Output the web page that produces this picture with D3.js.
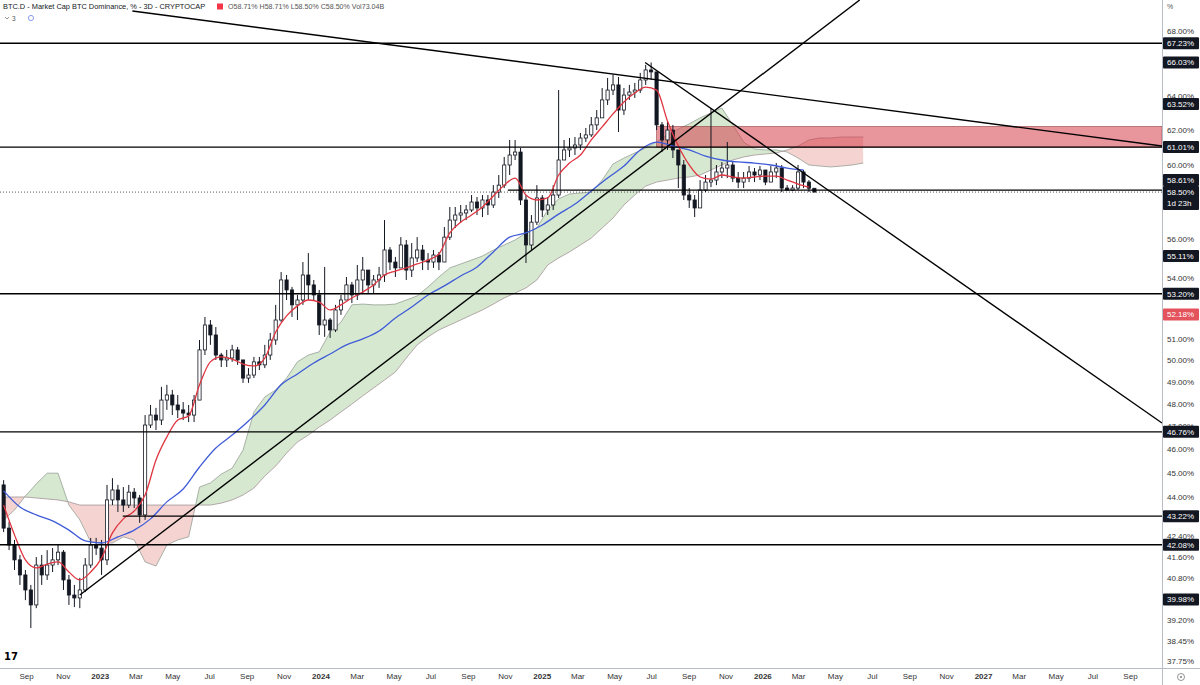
<!DOCTYPE html>
<html>
<head>
<meta charset="utf-8">
<script src="https://cdn.jsdelivr.net/npm/d3@7"></script>
<style>
  body { margin: 0; background: #fff; }
  svg { display: block; font-family: "Liberation Sans", Arial, sans-serif; }
</style>
</head>
<body>
<script>
// candles: one bar per 9 days (three 3D bars merged), open = previous close
const candleStart = '2022-07-26'
const candleDays = 9
const firstOpen = 44.50
const closes = [
  42.74, 42.07, 41.49, 40.91, 40.34, 39.78, 41.29, 40.91, 41.29, 41.49,
  41.79, 40.72, 40.15, 40.04, 40.34, 41.29, 42.07, 41.95, 41.49, 43.88,
  44.29, 43.88, 43.67, 44.20, 43.96, 43.27, 47.06, 47.50, 47.28, 48.17,
  48.40, 47.95, 47.73, 47.59, 47.50, 48.17, 50.48, 51.67, 51.19, 50.24,
  50.01, 50.10, 50.48, 50.01, 49.17, 49.31, 49.92, 49.78, 50.24, 50.95,
  51.91, 53.89, 53.39, 52.65, 52.89, 54.14, 53.64, 53.14, 51.67, 51.91,
  51.43, 52.40, 52.89, 53.64, 53.14, 53.89, 54.39, 53.64, 53.89, 54.14,
  55.42, 54.80, 54.50, 55.68, 54.39, 55.01, 55.42, 54.90, 54.80, 55.16,
  54.80, 56.09, 56.99, 57.26, 57.37, 57.53, 57.96, 57.64, 58.07, 57.80,
  58.50, 58.88, 60.00, 60.56, 60.73, 58.07, 55.68, 56.88, 58.18, 57.53,
  57.80, 58.34, 60.28, 60.85, 60.96, 61.13, 61.53, 61.71, 62.29, 62.70,
  63.76, 64.35, 64.66, 63.16, 64.05, 64.23, 64.35, 64.96, 65.57, 65.45,
  62.29, 61.42, 61.99, 60.85, 60.00, 58.34, 58.07, 57.64, 58.61, 59.05,
  59.16, 59.61, 59.83, 60.00, 59.27, 59.05, 59.27, 59.61, 59.44, 59.72,
  59.05, 59.61, 59.83, 58.72, 58.61, 58.72, 59.61, 59.05, 58.71, 58.50
]
const highs = [
  44.70, 42.99, 42.27, 41.68, 41.10, 40.53, 41.60, 41.68, 41.87, 41.95,
  42.07, 41.87, 40.91, 40.53, 40.80, 41.56, 42.35, 42.35, 42.27, 44.50,
  44.78, 44.50, 44.41, 44.50, 44.37, 44.08, 47.50, 47.95, 47.82, 48.77,
  48.86, 48.63, 48.40, 48.08, 47.95, 48.40, 50.95, 52.06, 51.91, 51.57,
  50.34, 50.48, 50.72, 50.62, 50.01, 49.63, 50.15, 50.15, 50.72, 51.29,
  52.65, 54.29, 54.14, 53.54, 53.14, 54.80, 55.26, 53.89, 53.39, 54.55,
  52.01, 52.65, 53.14, 54.04, 53.79, 54.65, 55.06, 54.39, 54.14, 54.55,
  56.99, 55.57, 55.06, 56.09, 55.94, 55.78, 56.09, 55.68, 55.26, 55.42,
  55.32, 56.62, 57.69, 57.69, 57.80, 57.80, 58.34, 58.23, 58.34, 58.34,
  58.88, 59.44, 60.45, 61.42, 61.42, 60.96, 58.34, 57.26, 58.88, 58.34,
  58.23, 58.88, 64.35, 61.42, 61.53, 61.59, 61.82, 62.11, 62.75, 63.16,
  64.47, 65.08, 65.27, 65.14, 64.47, 64.66, 64.78, 65.39, 65.88, 66.03,
  65.02, 62.46, 62.46, 62.29, 60.85, 60.28, 58.72, 58.34, 59.16, 59.44,
  63.28, 60.00, 60.17, 61.30, 60.17, 59.61, 59.61, 59.94, 59.83, 59.94,
  59.61, 59.94, 60.11, 60.00, 58.88, 58.88, 60.00, 59.72, 59.16, 58.71
]
const lows = [
  42.58, 41.87, 41.10, 40.53, 39.96, 38.93, 39.66, 40.53, 40.72, 41.02,
  41.29, 40.34, 39.78, 39.70, 39.66, 40.26, 41.18, 41.68, 40.91, 41.29,
  43.67, 43.39, 43.39, 43.55, 43.55, 42.95, 43.07, 46.93, 46.84, 47.06,
  47.73, 47.50, 47.37, 47.28, 47.19, 47.19, 48.17, 50.24, 50.72, 50.01,
  49.68, 49.68, 49.92, 49.78, 48.95, 48.95, 49.17, 49.54, 49.63, 50.01,
  50.72, 51.81, 52.89, 52.06, 51.91, 52.65, 52.89, 52.89, 51.19, 51.10,
  51.05, 51.33, 52.16, 52.89, 52.74, 52.89, 53.24, 53.24, 53.24, 53.49,
  53.79, 54.39, 54.04, 54.50, 53.89, 54.04, 54.80, 54.39, 54.39, 54.50,
  54.39, 54.80, 55.94, 56.57, 56.88, 56.99, 57.42, 57.26, 57.15, 57.26,
  57.64, 58.18, 58.72, 59.44, 60.28, 57.80, 54.75, 55.42, 56.73, 57.15,
  57.26, 57.53, 58.18, 60.28, 60.45, 60.56, 60.85, 61.30, 61.59, 61.99,
  62.70, 63.46, 64.05, 61.88, 62.87, 63.76, 63.88, 64.17, 64.66, 64.96,
  61.99, 60.73, 60.85, 60.39, 58.72, 58.07, 57.64, 57.15, 57.80, 58.50,
  58.77, 58.88, 59.27, 59.27, 59.05, 58.72, 58.72, 59.05, 59.05, 59.16,
  58.88, 59.16, 59.27, 58.50, 58.56, 58.56, 58.61, 58.72, 58.50, 58.50
]

// red average: one point every 2 bars, blue average: every 3 bars
const redStep = 2
const redMA = [
  43.67, 42.47, 41.49, 41.18, 41.33, 41.41, 41.02, 40.72, 41.02, 41.56,
  42.55, 43.11, 43.43, 44.08, 45.55, 46.54, 47.28, 47.46, 48.86, 49.92,
  50.15, 50.05, 49.82, 49.73, 50.10, 51.33, 52.11, 52.60, 52.89, 52.79,
  52.40, 52.65, 52.99, 53.29, 53.64, 54.14, 54.34, 54.50, 54.70, 54.90,
  55.21, 56.31, 56.88, 57.26, 57.69, 58.29, 58.88, 59.27, 58.34, 58.07,
  58.18, 59.44, 60.11, 60.56, 61.42, 62.17, 62.93, 63.64, 64.17, 64.53,
  64.35, 62.52, 61.07, 60.00, 59.33, 59.21, 59.44, 59.33, 59.27, 59.33,
  59.38, 59.38, 59.16, 58.94, 58.77
]
const blueStep = 3
const blueMA = [
  44.25, 43.59, 43.27, 43.03, 42.66, 42.23, 42.15, 42.39, 42.66, 43.11,
  43.80, 44.33, 45.25, 46.06, 46.62, 47.24, 47.95, 48.86, 49.36, 49.87,
  50.29, 50.72, 51.00, 51.38, 52.01, 52.55, 53.14, 53.59, 54.09, 54.55,
  55.32, 56.09, 56.31, 56.73, 57.31, 57.85, 58.56, 59.27, 59.94, 60.85,
  61.30, 61.07, 60.85, 60.50, 60.28, 60.17, 60.11, 60.00, 59.83, 59.72
]

// ichimoku cloud edges, one point every 2 bars (runs ahead of price)
const cloudStep = 2
const spanA = [
  43.07, 43.47, 44.04, 44.54, 44.99, 44.99, 43.67, 43.07, 42.19, 42.15,
  42.15, 42.39, 42.27, 41.41, 41.25, 42.07, 42.27, 42.39, 44.41, 44.58,
  44.95, 45.20, 45.97, 47.64, 48.31, 48.63, 49.17, 49.92, 50.24, 50.39,
  51.33, 51.81, 52.65, 52.69, 52.65, 52.65, 52.69, 52.89, 53.09, 53.54,
  54.04, 54.50, 54.70, 54.90, 55.11, 55.42, 55.68, 55.94, 56.31, 56.57,
  57.53, 58.13, 58.40, 58.45, 58.50, 59.16, 60.06, 60.39, 60.68, 60.96,
  61.30, 61.71, 62.05, 62.35, 62.70, 62.99, 63.28, 62.29, 61.30, 60.90,
  60.85, 60.85, 60.73, 60.39, 60.00, 59.94, 59.89, 59.94, 60.00, 60.11
]
const spanB = [
  44.00, 44.00, 44.00, 43.96, 43.92, 43.88, 43.80, 43.67, 43.67, 43.67,
  43.67, 43.67, 43.67, 43.67, 43.67, 43.67, 43.67, 43.67, 43.67, 43.67,
  43.75, 43.88, 44.08, 44.37, 44.87, 45.29, 45.84, 46.32, 46.62, 46.97,
  47.28, 47.64, 47.99, 48.36, 48.72, 49.08, 49.45, 50.10, 50.72, 51.10,
  51.43, 51.67, 51.91, 52.16, 52.40, 52.69, 52.99, 53.24, 53.49, 53.89,
  54.65, 55.01, 55.32, 55.68, 56.04, 56.57, 57.10, 57.80, 58.34, 58.83,
  59.05, 59.16, 59.27, 59.33, 59.44, 59.72, 60.00, 60.28, 60.45, 60.56,
  60.62, 60.68, 60.85, 61.07, 61.42, 61.53, 61.53, 61.59, 61.59, 61.59
]

// drawings
const levels = [67.23, 61.01, 53.20, 46.76, 42.08]
const rays = [{from: '2023-02-08', value: 43.22}, {from: '2024-11-06', value: 58.61}]
const lastPrice = 58.50
const trendLines = [
  [['2023-02-24', 69.28], ['2027-10-24', 61.07]],
  [['2022-11-29', 40.15], ['2026-06-11', 70.0]],
  [['2025-06-21', 66.03], ['2027-10-24', 47.15]]
]
const zone = {from: '2025-07-10', top: 62.20, bottom: 61.01}

// axis
const yTicks = [68, 64, 62, 60, 56, 54, 51, 50, 49, 48, 47, 46, 45, 44, 42.4, 41.6, 40.8, 39.2, 38.45, 37.75]
const priceTags = [
  {v: 67.23}, {v: 66.03}, {v: 63.52}, {v: 61.01}, {v: 58.61},
  {v: 58.50, extra: '1d 23h'}, {v: 55.11}, {v: 53.20},
  {v: 52.18, fill: '#e4525c'}, {v: 46.76}, {v: 43.22}, {v: 42.08}, {v: 39.98}
]
const title = 'BTC.D - Market Cap BTC Dominance, % - 3D - CRYPTOCAP'
const ohlc = 'O58.71% H58.71% L58.50% C58.50% Vol73.04B'

const width = 1200
const height = 685
const plotW = 1162
const plotH = 668
const axisColor = '#b8bcc4'
const ink = '#131722'

const parse = d3.timeParse('%Y-%m-%d')
const t0 = parse(candleStart)

const x = d3.scaleTime().domain([parse('2022-07-20'), parse('2027-10-24')]).range([0, plotW])
const y = d3.scaleLog().domain([37.75, 68]).range([661, 31])

const candles = closes.map((c, i) => {
  const o = i === 0 ? firstOpen : closes[i - 1]
  return {
    date: d3.timeDay.offset(t0, i * candleDays),
    o, c,
    h: Math.max(highs[i], o, c),
    l: Math.min(lows[i], o, c)
  }
})
const redPts = redMA.map((v, k) => ({date: d3.timeDay.offset(t0, k * redStep * candleDays), v}))
const bluePts = blueMA.map((v, k) => ({date: d3.timeDay.offset(t0, k * blueStep * candleDays), v}))
const cloud = spanA.map((a, k) => ({date: d3.timeDay.offset(t0, k * cloudStep * candleDays), a, b: spanB[k]}))

const svg = d3.select('body').append('svg')
  .attr('width', width)
  .attr('height', height)

const defs = svg.append('defs')
defs.append('clipPath').attr('id', 'plot')
  .append('rect').attr('width', plotW).attr('height', plotH)
defs.append('clipPath').attr('id', 'aboveB')
  .append('path').attr('d', d3.area().x((d) => x(d.date)).y0(0).y1((d) => y(d.b))(cloud))
defs.append('clipPath').attr('id', 'belowB')
  .append('path').attr('d', d3.area().x((d) => x(d.date)).y0(plotH).y1((d) => y(d.b))(cloud))

const g = svg.append('g').attr('clip-path', 'url(#plot)')

// cloud
const cloudArea = d3.area().x((d) => x(d.date)).y0((d) => y(d.b)).y1((d) => y(d.a))
g.append('path').attr('d', cloudArea(cloud)).attr('fill', '#d6e8d0').attr('clip-path', 'url(#aboveB)')
g.append('path').attr('d', cloudArea(cloud)).attr('fill', '#f4d3d1').attr('clip-path', 'url(#belowB)')
g.append('path').datum(cloud)
  .attr('d', d3.line().x((d) => x(d.date)).y((d) => y(d.a)))
  .attr('fill', 'none').attr('stroke', '#95a095').attr('stroke-width', 0.8)
g.append('path').datum(cloud)
  .attr('d', d3.line().x((d) => x(d.date)).y((d) => y(d.b)))
  .attr('fill', 'none').attr('stroke', '#a09595').attr('stroke-width', 0.8)

// red resistance zone
g.append('rect')
  .attr('x', x(parse(zone.from)))
  .attr('y', y(zone.top))
  .attr('width', plotW - x(parse(zone.from)))
  .attr('height', y(zone.bottom) - y(zone.top))
  .attr('fill', 'rgba(214, 62, 74, 0.55)')
  .attr('stroke', 'rgba(140, 60, 60, 0.7)')
  .attr('stroke-width', 0.8)

// last price dotted line
g.append('line')
  .attr('x1', 0).attr('x2', plotW)
  .attr('y1', y(lastPrice)).attr('y2', y(lastPrice))
  .attr('stroke', '#555').attr('stroke-width', 1).attr('stroke-dasharray', '1,2')

// candles
const bars = g.append('g')
bars.selectAll('line')
  .data(candles)
  .join('line')
  .attr('x1', (d) => x(d.date)).attr('x2', (d) => x(d.date))
  .attr('y1', (d) => y(d.h)).attr('y2', (d) => y(d.l))
  .attr('stroke', ink).attr('stroke-width', 1)
bars.selectAll('rect')
  .data(candles)
  .join('rect')
  .attr('x', (d) => x(d.date) - 1.6)
  .attr('width', 3.2)
  .attr('y', (d) => y(Math.max(d.o, d.c)))
  .attr('height', (d) => Math.max(1, Math.abs(y(d.o) - y(d.c))))
  .attr('fill', (d) => d.c >= d.o ? '#fff' : ink)
  .attr('stroke', ink).attr('stroke-width', 0.8)

// moving averages
const maLine = d3.line().x((d) => x(d.date)).y((d) => y(d.v)).curve(d3.curveMonotoneX)
g.append('path').datum(bluePts).attr('d', maLine)
  .attr('fill', 'none').attr('stroke', '#3f5bd8').attr('stroke-width', 1.3)
g.append('path').datum(redPts).attr('d', maLine)
  .attr('fill', 'none').attr('stroke', '#df3540').attr('stroke-width', 1.3)

// horizontal levels
g.selectAll('.level')
  .data(levels)
  .join('line')
  .attr('class', 'level')
  .attr('x1', 0).attr('x2', plotW)
  .attr('y1', (d) => y(d)).attr('y2', (d) => y(d))
  .attr('stroke', '#000').attr('stroke-width', 1.4)
g.selectAll('.ray')
  .data(rays)
  .join('line')
  .attr('class', 'ray')
  .attr('x1', (d) => x(parse(d.from))).attr('x2', plotW)
  .attr('y1', (d) => y(d.value)).attr('y2', (d) => y(d.value))
  .attr('stroke', '#000').attr('stroke-width', 1.4)

// trend lines
g.selectAll('.trend')
  .data(trendLines)
  .join('line')
  .attr('class', 'trend')
  .attr('x1', (d) => x(parse(d[0][0]))).attr('y1', (d) => y(d[0][1]))
  .attr('x2', (d) => x(parse(d[1][0]))).attr('y2', (d) => y(d[1][1]))
  .attr('stroke', '#000').attr('stroke-width', 1.4)

// axes frame
svg.append('line').attr('x1', 0).attr('x2', width).attr('y1', plotH + 0.5).attr('y2', plotH + 0.5)
  .attr('stroke', axisColor)
svg.append('line').attr('x1', plotW + 0.5).attr('x2', plotW + 0.5).attr('y1', 0).attr('y2', height)
  .attr('stroke', axisColor)

// time axis
const xAxis = svg.append('g')
  .attr('transform', `translate(0, ${plotH})`)
  .call(d3.axisBottom(x)
    .ticks(d3.timeMonth.every(2))
    .tickSize(0)
    .tickPadding(5)
    .tickFormat((d) => d.getMonth() === 0 ? d3.timeFormat('%Y')(d) : d3.timeFormat('%b')(d)))
xAxis.select('.domain').remove()
xAxis.selectAll('text')
  .attr('fill', '#333')
  .style('font-size', '8px')
  .style('font-family', '"Liberation Sans", Arial, sans-serif')
  .style('font-weight', (d) => d.getMonth() === 0 ? 'bold' : 'normal')

// price axis; a tick label sitting under a tag is clipped to what stays visible
const tags = priceTags.map((t) => {
  const h = t.extra ? 24 : 12
  return {...t, top: y(t.v) - 6, h}
}).sort((a, b) => b.top - a.top)
for (let i = 1; i < tags.length; i++) {
  const lower = tags[i - 1]
  if (tags[i].top + tags[i].h > lower.top) tags[i].top = lower.top - tags[i].h
}

const yAxis = svg.append('g')
yAxis.selectAll('text')
  .data(yTicks)
  .join('text')
  .attr('x', plotW + 5)
  .attr('y', (d) => y(d))
  .attr('dy', '0.35em')
  .attr('fill', '#333')
  .style('font-size', '8px')
  .text((d) => `${d.toFixed(2)}%`)
yAxis.append('text')
  .attr('x', plotW + 5).attr('y', 9)
  .attr('fill', '#555').style('font-size', '7px')
  .text('%')

const tagG = svg.append('g')
  .selectAll('g')
  .data(tags)
  .join('g')
  .attr('transform', (d) => `translate(${plotW + 1}, ${d.top})`)
tagG.append('rect')
  .attr('width', width - plotW - 2)
  .attr('height', (d) => d.h)
  .attr('rx', 1)
  .attr('fill', (d) => d.fill || ink)
tagG.append('text')
  .attr('x', 4).attr('y', 6).attr('dy', '0.35em')
  .attr('fill', '#fff').style('font-size', '8px')
  .text((d) => `${d.v.toFixed(2)}%`)
tagG.filter((d) => d.extra).append('text')
  .attr('x', 4).attr('y', 17).attr('dy', '0.35em')
  .attr('fill', '#fff').style('font-size', '8px')
  .text((d) => d.extra)

// legend header
const head = svg.append('g')
head.append('text')
  .attr('x', 3).attr('y', 9)
  .attr('fill', ink).style('font-size', '7.4px')
  .text(title)
head.append('rect')
  .attr('x', 217).attr('y', 3.5).attr('width', 6).attr('height', 6)
  .attr('fill', '#f23645')
head.append('text')
  .attr('x', 228).attr('y', 9)
  .attr('fill', '#555').style('font-size', '7.1px')
  .text(ohlc)
head.append('path')
  .attr('d', 'M5,17 L7,19 L9,17')
  .attr('fill', 'none').attr('stroke', '#777').attr('stroke-width', 0.8)
head.append('text')
  .attr('x', 12).attr('y', 20.5)
  .attr('fill', '#555').style('font-size', '6.5px')
  .text('3')
head.append('circle')
  .attr('cx', 31).attr('cy', 18).attr('r', 2.6)
  .attr('fill', 'none').attr('stroke', '#8d9cf2').attr('stroke-width', 1)

// logo and corner icon
svg.append('text')
  .attr('x', 4).attr('y', 660)
  .attr('fill', '#000')
  .style('font-size', '10px').style('font-weight', 'bold')
  .style('font-family', '"DejaVu Sans", sans-serif')
  .text('17')
svg.append('circle').attr('cx', 1181).attr('cy', 677).attr('r', 3.5)
  .attr('fill', 'none').attr('stroke', '#777').attr('stroke-width', 0.8)
svg.append('circle').attr('cx', 1181).attr('cy', 677).attr('r', 1)
  .attr('fill', '#777')
</script>
</body>
</html>
